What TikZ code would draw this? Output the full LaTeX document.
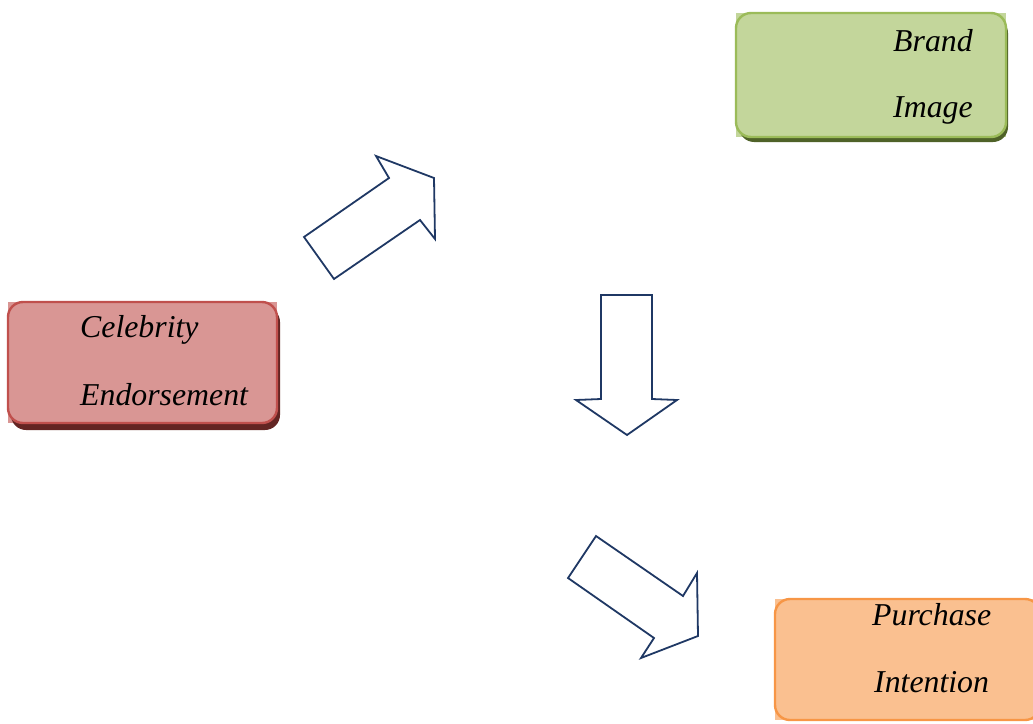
\documentclass[tikz,border=0pt]{standalone}
\usepackage{fontspec}
\setmainfont{Liberation Serif}
\definecolor{arrowblue}{RGB}{31,56,100}
\definecolor{redfill}{RGB}{217,150,148}
\definecolor{redline}{RGB}{192,80,77}
\definecolor{redshadow}{RGB}{99,37,35}
\definecolor{greenfill}{RGB}{195,214,155}
\definecolor{greenline}{RGB}{155,187,89}
\definecolor{greenshadow}{RGB}{79,98,40}
\definecolor{orangefill}{RGB}{250,192,144}
\definecolor{orangeline}{RGB}{247,150,70}
\definecolor{orangeshadow}{RGB}{152,72,6}
\tikzset{
  blockarrow/.style={draw=arrowblue, line width=1.8pt, fill=white, line join=miter},
  boxlabel/.style={anchor=base west, inner sep=0pt, font=\fontsize{31.8}{37}\selectfont\itshape},
  boxshape/.style={rounded corners=15pt, line width=2.4pt}
}
\begin{document}
\begin{tikzpicture}[x=1pt,y=-1pt]
\useasboundingbox (0,0) rectangle (1033,723);
% Celebrity Endorsement box
\fill[redfill] (8,302) rectangle (277,423);
\fill[redshadow, rounded corners=15pt] (11,307) rectangle (280,430);
\draw[boxshape, draw=redline, fill=redfill] (8,302) rectangle (277,423);
\node[boxlabel] (celeb1) at (80,337) {Celebrity};
\node[boxlabel] (celeb2) at (80,405) {Endorsement};
% Brand Image box
\fill[greenfill] (736,13) rectangle (1006,137);
\fill[greenshadow, rounded corners=15pt] (739,18) rectangle (1008,142);
\draw[boxshape, draw=greenline, fill=greenfill] (736,13) rectangle (1006,137);
\node[boxlabel] (brand1) at (893,51) {Brand};
\node[boxlabel] (brand2) at (893,117) {Image};
% Purchase Intention box
\fill[orangefill] (775,599) rectangle (1040,720);
\draw[boxshape, draw=orangeline, fill=orangefill] (775,599) rectangle (1040,720);
\node[boxlabel] (purch1) at (872,625) {Purchase};
\node[boxlabel] (purch2) at (874,692) {Intention};
% Arrows
\draw[blockarrow] (304,237) -- (389,178) -- (376,156) -- (434,178) -- (435,239) -- (420,220) -- (334,279) -- cycle;
\draw[blockarrow] (601,295) -- (652,295) -- (652,399) -- (677,400) -- (627,435) -- (576,400) -- (601,399) -- cycle;
\draw[blockarrow] (596,536) -- (683,596) -- (697,573) -- (698,636) -- (641,658) -- (654,638) -- (568,578) -- cycle;
\end{tikzpicture}
\end{document}
